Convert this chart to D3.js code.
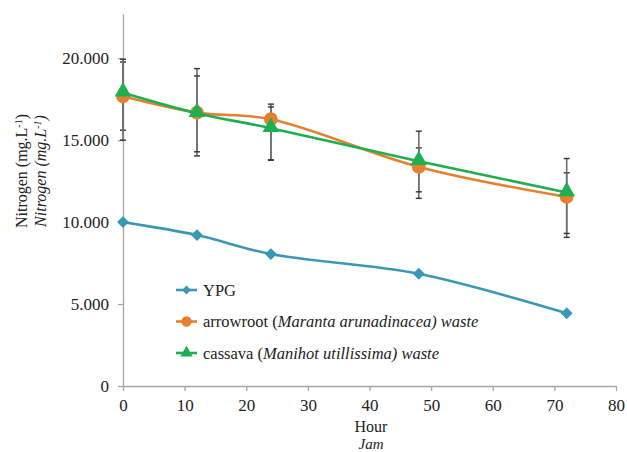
<!doctype html>
<html>
<head>
<meta charset="utf-8">
<script src="https://d3js.org/d3.v7.min.js"></script>
<style>
  body { margin: 0; background: #fff; }
  svg text { font-family: "Liberation Serif", "DejaVu Serif", serif; fill: #222; }
</style>
</head>
<body>
<svg width="627" height="452"></svg>
<script>
var hours = [0, 12, 24, 48, 72];
var ypg = [10000, 9210, 8050, 6850, 4440];
var arrowroot = [17680, 16680, 16280, 13370, 11540];
var cassava = [17900, 16650, 15730, 13720, 11810];
// error bars as [low, high]
var arrowrootErr = [[15610, 19770], [14040, 19370], [13780, 17200], [11450, 14530], [9070, 13010]];
var cassavaErr = [[15000, 19940], [14290, 18920], [13800, 17030], [11850, 15550], [9310, 13880]];
var xTicks = [0, 10, 20, 30, 40, 50, 60, 70, 80];
var yTicks = [0, 5000, 10000, 15000, 20000];

var series = [
  { name: "YPG", values: ypg, err: null, color: "#3b98b5", shape: "diamond" },
  { name: "arrowroot", values: arrowroot, err: arrowrootErr, color: "#e5802f", shape: "circle" },
  { name: "cassava", values: cassava, err: cassavaErr, color: "#1daf50", shape: "triangle" }
];

var svg = d3.select("svg");
var x = d3.scaleLinear().domain([0, 80]).range([123, 616]);
var y = d3.scaleLinear().domain([0, 22700]).range([386, 14]);
var axisColor = "#a6a6a6";

// axes
var yAxis = svg.append("g").attr("transform", "translate(" + x(0) + ",0)")
  .call(d3.axisLeft(y).tickValues(yTicks).tickSize(5).tickSizeOuter(0)
    .tickFormat(function(d) { return d === 0 ? "0" : d3.format(".3f")(d / 1000); }));
var xAxis = svg.append("g").attr("transform", "translate(0," + y(0) + ")")
  .call(d3.axisBottom(x).tickValues(xTicks).tickSize(5).tickSizeOuter(0));
[xAxis, yAxis].forEach(function(g) {
  g.attr("font-family", null);
  g.select(".domain").attr("stroke", axisColor).attr("stroke-width", 1.3);
  g.selectAll(".tick line").attr("stroke", axisColor).attr("stroke-width", 1.3);
  g.selectAll(".tick text").style("font-size", "17px").attr("fill", "#222");
});
yAxis.selectAll(".tick text").attr("x", -14);
xAxis.selectAll(".tick text").attr("y", 13);

// axis titles
var yt = svg.append("g").attr("transform", "translate(27,171) rotate(-90)");
var t1 = yt.append("text").attr("text-anchor", "middle").style("font-size", "16px");
t1.append("tspan").text("Nitrogen (mg.L");
t1.append("tspan").attr("baseline-shift", "super").style("font-size", "10px").text("-1");
t1.append("tspan").text(")");
var t2 = yt.append("text").attr("text-anchor", "middle").attr("y", 19).style("font-size", "16px").style("font-style", "italic");
t2.append("tspan").text("Nitrogen (mg.L");
t2.append("tspan").attr("baseline-shift", "super").style("font-size", "10px").text("-1");
t2.append("tspan").text(")");

svg.append("text").attr("x", 371).attr("y", 432).attr("text-anchor", "middle").style("font-size", "16px").text("Hour");
svg.append("text").attr("x", 371).attr("y", 449).attr("text-anchor", "middle").style("font-size", "15px").style("font-style", "italic").text("Jam");

// error bars
series.forEach(function(s) {
  if (!s.err) return;
  var g = svg.append("g");
  s.err.forEach(function(e, i) {
    var cx = x(hours[i]);
    g.append("line").attr("x1", cx).attr("x2", cx).attr("y1", y(e[0])).attr("y2", y(e[1]))
      .attr("stroke", "#6e6e6e").attr("stroke-width", 1.6);
    [e[0], e[1]].forEach(function(v) {
      g.append("line").attr("x1", cx - 3).attr("x2", cx + 3).attr("y1", y(v)).attr("y2", y(v))
        .attr("stroke", "#333").attr("stroke-width", 1.4);
    });
  });
});

function symbolFor(shape, size) {
  if (shape === "diamond") return d3.symbol().type(d3.symbolDiamond2).size(size * 0.9)();
  if (shape === "circle") return d3.symbol().type(d3.symbolCircle).size(size * 1.5)();
  return d3.symbol().type(d3.symbolTriangle).size(size * 1.2)();
}

var line = d3.line().curve(d3.curveCatmullRom.alpha(0.5))
  .x(function(d, i) { return x(hours[i]); })
  .y(function(d) { return y(d); });

series.forEach(function(s) {
  svg.append("path").attr("d", line(s.values)).attr("fill", "none")
    .attr("stroke", s.color).attr("stroke-width", 2.6);
  svg.selectAll(null).data(s.values).enter().append("path")
    .attr("d", symbolFor(s.shape, 100))
    .attr("transform", function(d, i) {
      return "translate(" + x(hours[i]) + "," + (y(d) + (s.shape === "triangle" ? -1 : 0)) + ")";
    })
    .attr("fill", s.color);
});

// legend
var legendRows = [
  { s: series[0], normal: "YPG", italic: "" },
  { s: series[1], normal: "arrowroot (", italic: "Maranta arunadinacea) waste" },
  { s: series[2], normal: "cassava (", italic: "Manihot utillissima) waste" }
];
legendRows.forEach(function(r, i) {
  var ly = 290 + i * 31.5;
  var g = svg.append("g").attr("transform", "translate(0," + ly + ")");
  g.append("line").attr("x1", 176).attr("x2", 197).attr("y1", 0).attr("y2", 0)
    .attr("stroke", r.s.color).attr("stroke-width", 2.6);
  g.append("path").attr("d", symbolFor(r.s.shape, 55)).attr("transform", "translate(186.5,0)")
    .attr("fill", r.s.color);
  var t = g.append("text").attr("x", 203).attr("y", 5.5).style("font-size", "16.5px");
  t.append("tspan").text(r.normal);
  if (r.italic) t.append("tspan").style("font-style", "italic").text(r.italic);
});
</script>
</body>
</html>
